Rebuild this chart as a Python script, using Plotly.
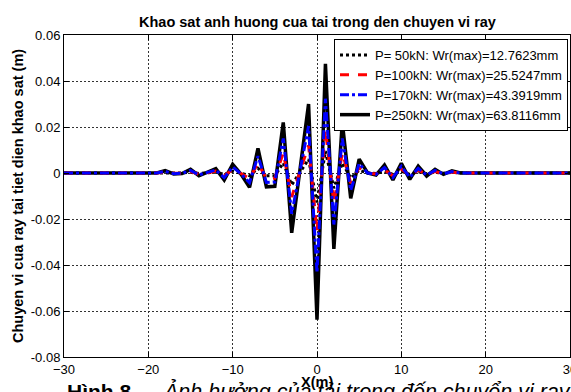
import plotly.graph_objects as go

x_m = list(range(-30, 31))

# P=250kN (solid black)
w_250 = [0]*12 + [0.001, -0.0004, -0.0002, 0.0016, -0.0012, 0.0005, 0.0019, -0.003, 0.0038, -0.0006,
                  -0.0062, 0.0107, -0.006, -0.0058, 0.022, -0.026, 0.002, 0.030, -0.0638, 0.0475,
                  -0.033, 0.022, -0.011, 0.006, 0.0, -0.0009, 0.0035, -0.003, 0.0042, -0.0028,
                  0.003, -0.0013, 0.0016, -0.0006, 0.0009] + [0]*14
# P=170kN (blue dash-dot)
w_170 = [0]*12 + [0.0007, -0.0003, -0.0001, 0.0011, -0.0008, 0.0003, 0.0013, -0.002, 0.0026, -0.0004,
                  -0.0042, 0.0073, -0.0041, -0.0039, 0.015, -0.0177, 0.0014, 0.0204, -0.0434, 0.0323,
                  -0.0224, 0.015, -0.0075, 0.0041, 0.0, -0.0006, 0.0024, -0.002, 0.0029, -0.0019,
                  0.002, -0.0009, 0.0011, -0.0004, 0.0006] + [0]*14
# P=100kN (red dashed)
w_100 = [0]*12 + [0.0004, -0.00016, -0.0001, 0.00064, -0.0005, 0.0002, 0.0008, -0.0012, 0.0015, -0.0002,
                  -0.0025, 0.0043, -0.0024, -0.0023, 0.0088, -0.0104, 0.0008, 0.012, -0.0255, 0.019,
                  -0.0132, 0.0088, -0.0044, 0.0024, 0.0, -0.0004, 0.0014, -0.0012, 0.0017, -0.0011,
                  0.0012, -0.0005, 0.0006, -0.0002, 0.0004] + [0]*14
# P=50kN (black dotted)
w_50 = [0]*12 + [0.0002, -0.0001, 0.0, 0.0003, -0.0002, 0.0001, 0.0004, -0.0006, 0.0008, -0.0001,
                 -0.0012, 0.0021, -0.0012, -0.0012, 0.0044, -0.0052, 0.0004, 0.006, -0.0128, 0.0095,
                 -0.0066, 0.0044, -0.0022, 0.0012, 0.0, -0.0002, 0.0007, -0.0006, 0.0008, -0.0006,
                 0.0006, -0.0003, 0.0003, -0.0001, 0.0002] + [0]*14

names = ["P= 50kN: Wr(max)=12.7623mm", "P=100kN: Wr(max)=25.5247mm",
         "P=170kN: Wr(max)=43.3919mm", "P=250kN: Wr(max)=63.8116mm"]

x_ticks = [-30, -20, -10, 0, 10, 20, 30]
y_ticks = [0.06, 0.04, 0.02, 0, -0.02, -0.04, -0.06, -0.08]
y_tick_labels = ["0.06", "0.04", "0.02", "0", "-0.02", "-0.04", "-0.06", "-0.08"]

FONT = "Arial, Liberation Sans, sans-serif"

fig = go.Figure()
fig.add_trace(go.Scatter(x=x_m, y=w_250, name=names[3], mode="lines", legendrank=4,
                         line=dict(color="black", width=3.5, dash="solid")))
fig.add_trace(go.Scatter(x=x_m, y=w_50, name=names[0], mode="lines", legendrank=1,
                         line=dict(color="black", width=3, dash="dot")))
fig.add_trace(go.Scatter(x=x_m, y=w_100, name=names[1], mode="lines", legendrank=2,
                         line=dict(color="red", width=3, dash="dash")))
fig.add_trace(go.Scatter(x=x_m, y=w_170, name=names[2], mode="lines", legendrank=3,
                         line=dict(color="blue", width=3, dash="dashdot")))

L, R, T, B = 64, 1, 35, 35
W, H = 571, 392
pw, ph = W - L - R, H - T - B

def px_x(p):
    return (p - L) / pw

def px_y(p):
    return (H - B - p) / ph

axis_common = dict(showline=True, linecolor="black", linewidth=1, mirror="ticks",
                   ticks="inside", ticklen=5, tickcolor="black", automargin=False,
                   showgrid=True, gridcolor="#333", gridwidth=1, griddash="2px,2px",
                   zeroline=False, ticklabeloverflow="allow",
                   tickfont=dict(family=FONT, size=13, color="black"))

fig.update_layout(
    width=W, height=H,
    margin=dict(l=L, r=R, t=T, b=B, autoexpand=False),
    paper_bgcolor="white", plot_bgcolor="white",
    showlegend=True,
    legend=dict(x=px_x(568), y=px_y(39), xanchor="right", yanchor="top",
                bgcolor="white", bordercolor="black", borderwidth=1,
                font=dict(family=FONT, size=13, color="black"),
                tracegroupgap=0, itemwidth=30),
    xaxis=dict(range=[-30, 30], tickvals=x_ticks, **axis_common),
    yaxis=dict(range=[-0.08, 0.06], tickvals=y_ticks, ticktext=y_tick_labels, **axis_common),
)

annots = [
    dict(text="<b>Khao sat anh huong cua tai trong den chuyen vi ray</b>", x=0.5, y=px_y(22),
         xanchor="center", yanchor="middle", font=dict(family=FONT, size=14.5, color="black")),
    dict(text="<b>Chuyen vi cua ray tai tiet dien khao sat (m)</b>", x=px_x(18), y=0.5,
         textangle=-90, xanchor="center", yanchor="middle",
         font=dict(family=FONT, size=14.5, color="black")),
    dict(text="<b>X(m)</b>", x=0.5, y=px_y(382), xanchor="center", yanchor="middle",
         font=dict(family=FONT, size=14.5, color="black")),
    dict(text="<b>Hình 8.</b>", x=px_x(65), y=px_y(391), xanchor="left", yanchor="middle",
         font=dict(family=FONT, size=21, color="black")),
    dict(text="<i>Ảnh hưởng của tải trọng đến chuyển vị ray</i>", x=px_x(160), y=px_y(391),
         xanchor="left", yanchor="middle", font=dict(family=FONT, size=21.5, color="black")),
]
for a in annots:
    fig.add_annotation(xref="paper", yref="paper", showarrow=False, **a)

fig.write_html("out.html", config={"displayModeBar": False},
               post_script="document.body.style.margin='0';document.body.style.padding='0';"
                           "document.body.style.overflow='hidden';")
